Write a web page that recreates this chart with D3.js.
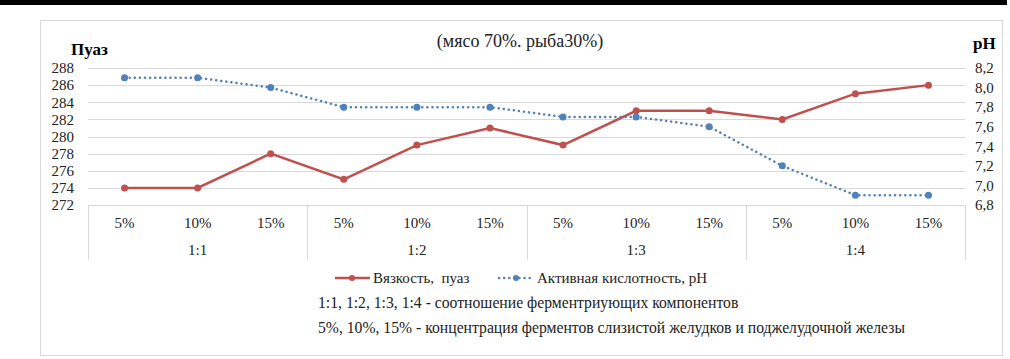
<!DOCTYPE html>
<html>
<head>
<meta charset="utf-8">
<script src="https://cdn.jsdelivr.net/npm/d3@7"></script>
<style>
  body { margin: 0; background: #fff; }
</style>
</head>
<body>
<div id="main"></div>
<script>
const ctx = {
    SVG_W: 1010,
    SVG_H: 359,
    FONT: "'Times New Roman', Tinos, 'Liberation Serif', 'DejaVu Serif', 'Noto Serif', serif",
};

// data
const groups = ["1:1", "1:2", "1:3", "1:4"];
const concs = ["5%", "10%", "15%"];
const viscosity = [274, 274, 278, 275, 279, 281, 279, 283, 283, 282, 285, 286];
const ph = [8.1, 8.1, 8.0, 7.8, 7.8, 7.8, 7.7, 7.7, 7.6, 7.2, 6.9, 6.9];
const leftTicks = [272, 274, 276, 278, 280, 282, 284, 286, 288];
const rightTicks = [6.8, 7.0, 7.2, 7.4, 7.6, 7.8, 8.0, 8.2];
const seriesNames = ["Вязкость,  пуаз", "Активная кислотность, pH"];
const notes = [
    "1:1, 1:2, 1:3, 1:4 - соотношение ферментриующих компонентов",
    "5%, 10%, 15% - концентрация ферментов слизистой желудков и поджелудочной железы"
];

function createViz() {
    let svgEl = d3.select("#main").append("svg")
        .attr("width", ctx.SVG_W)
        .attr("height", ctx.SVG_H)
        .style("font-family", ctx.FONT);

    // black strip at the top + frame
    svgEl.append("rect").attr("x", 0).attr("y", 0).attr("width", 1007).attr("height", 5).attr("fill", "#000");
    svgEl.append("rect").attr("x", 40.5).attr("y", 20.5).attr("width", 962).attr("height", 335)
        .attr("fill", "none").attr("stroke", "#d9d9d9");

    const cats = [];
    groups.forEach(g => concs.forEach(c => cats.push(g + "|" + c)));

    const x = d3.scaleBand().domain(cats).range([88, 965]);
    const y = d3.scaleLinear().domain([272, 288]).range([205, 68]);
    const y2 = d3.scaleLinear().domain([6.8, 8.2]).range([205, 68]);
    const fs = 15;

    // gridlines
    svgEl.append("g").selectAll("line").data(leftTicks).enter().append("line")
        .attr("x1", 88).attr("x2", 965)
        .attr("y1", d => Math.round(y(d)) + 0.5).attr("y2", d => Math.round(y(d)) + 0.5)
        .attr("stroke", "#d9d9d9").attr("stroke-width", 1);

    // left axis labels
    svgEl.append("g").selectAll("text").data(leftTicks).enter().append("text")
        .attr("x", 74).attr("y", d => y(d)).attr("dy", "0.35em")
        .attr("text-anchor", "end").attr("font-size", fs).attr("fill", "#222").text(d => d);

    // right axis labels
    svgEl.append("g").selectAll("text").data(rightTicks).enter().append("text")
        .attr("x", 975).attr("y", d => y2(d)).attr("dy", "0.35em")
        .attr("text-anchor", "start").attr("font-size", fs).attr("fill", "#222")
        .text(d => d.toFixed(1).replace(".", ","));

    // axis titles
    svgEl.append("text").attr("x", 71).attr("y", 55).attr("font-size", 17).attr("font-weight", "bold").text("Пуаз");
    svgEl.append("text").attr("x", 973).attr("y", 49).attr("font-size", 17).attr("font-weight", "bold").text("pH");
    svgEl.append("text").attr("x", 520).attr("y", 47).attr("text-anchor", "middle").attr("font-size", 18)
        .attr("fill", "#222").text("(мясо 70%. рыба30%)");

    // category axis box
    const bw = x.bandwidth();
    const seps = [0, 3, 6, 9].map(i => x(cats[i])).concat([x(cats[11]) + bw]);
    svgEl.append("g").selectAll("line").data(seps).enter().append("line")
        .attr("x1", d => Math.round(d) + 0.5).attr("x2", d => Math.round(d) + 0.5)
        .attr("y1", 205).attr("y2", 260)
        .attr("stroke", "#d9d9d9");

    svgEl.append("g").selectAll("text").data(cats).enter().append("text")
        .attr("x", d => x(d) + bw / 2).attr("y", 228)
        .attr("text-anchor", "middle").attr("font-size", fs).attr("fill", "#222")
        .text(d => d.split("|")[1]);

    svgEl.append("g").selectAll("text").data(groups).enter().append("text")
        .attr("x", (d, i) => x(cats[i * 3]) + bw * 1.5).attr("y", 255)
        .attr("text-anchor", "middle").attr("font-size", fs).attr("fill", "#222")
        .text(d => d);

    // viscosity line
    const lineV = d3.line().x((d, i) => x(cats[i]) + bw / 2).y(d => y(d));
    svgEl.append("path").datum(viscosity).attr("d", lineV)
        .attr("fill", "none").attr("stroke", "#c0504d").attr("stroke-width", 2.5);
    svgEl.append("g").selectAll("circle").data(viscosity).enter().append("circle")
        .attr("cx", (d, i) => x(cats[i]) + bw / 2).attr("cy", d => y(d)).attr("r", 3.5)
        .attr("fill", "#c0504d");

    // pH line
    const lineP = d3.line().x((d, i) => x(cats[i]) + bw / 2).y(d => y2(d));
    svgEl.append("path").datum(ph).attr("d", lineP)
        .attr("fill", "none").attr("stroke", "#4f81bd").attr("stroke-width", 2.5)
        .attr("stroke-dasharray", "0.1 5").attr("stroke-linecap", "round");
    svgEl.append("g").selectAll("circle").data(ph).enter().append("circle")
        .attr("cx", (d, i) => x(cats[i]) + bw / 2).attr("cy", d => y2(d)).attr("r", 3.5)
        .attr("fill", "#4f81bd");

    // legend
    const lg = svgEl.append("g");
    lg.append("line").attr("x1", 335).attr("x2", 370).attr("y1", 278).attr("y2", 278)
        .attr("stroke", "#c0504d").attr("stroke-width", 2.5);
    lg.append("circle").attr("cx", 352).attr("cy", 278).attr("r", 3).attr("fill", "#c0504d");
    lg.append("text").attr("x", 373).attr("y", 278).attr("dy", "0.35em").attr("font-size", fs)
        .attr("fill", "#222").style("white-space", "pre").text(seriesNames[0]);
    lg.append("line").attr("x1", 499).attr("x2", 533).attr("y1", 278).attr("y2", 278)
        .attr("stroke", "#4f81bd").attr("stroke-width", 2.5)
        .attr("stroke-dasharray", "0.1 5").attr("stroke-linecap", "round");
    lg.append("circle").attr("cx", 516).attr("cy", 278).attr("r", 3).attr("fill", "#4f81bd");
    lg.append("text").attr("x", 537).attr("y", 278).attr("dy", "0.35em").attr("font-size", fs)
        .attr("fill", "#222").text(seriesNames[1]);

    // notes
    svgEl.append("g").selectAll("text").data(notes).enter().append("text")
        .attr("x", 318).attr("y", (d, i) => 303 + i * 25).attr("dy", "0.35em")
        .attr("font-size", 15.7).attr("fill", "#222").text(d => d);
}

createViz();
</script>
</body>
</html>
